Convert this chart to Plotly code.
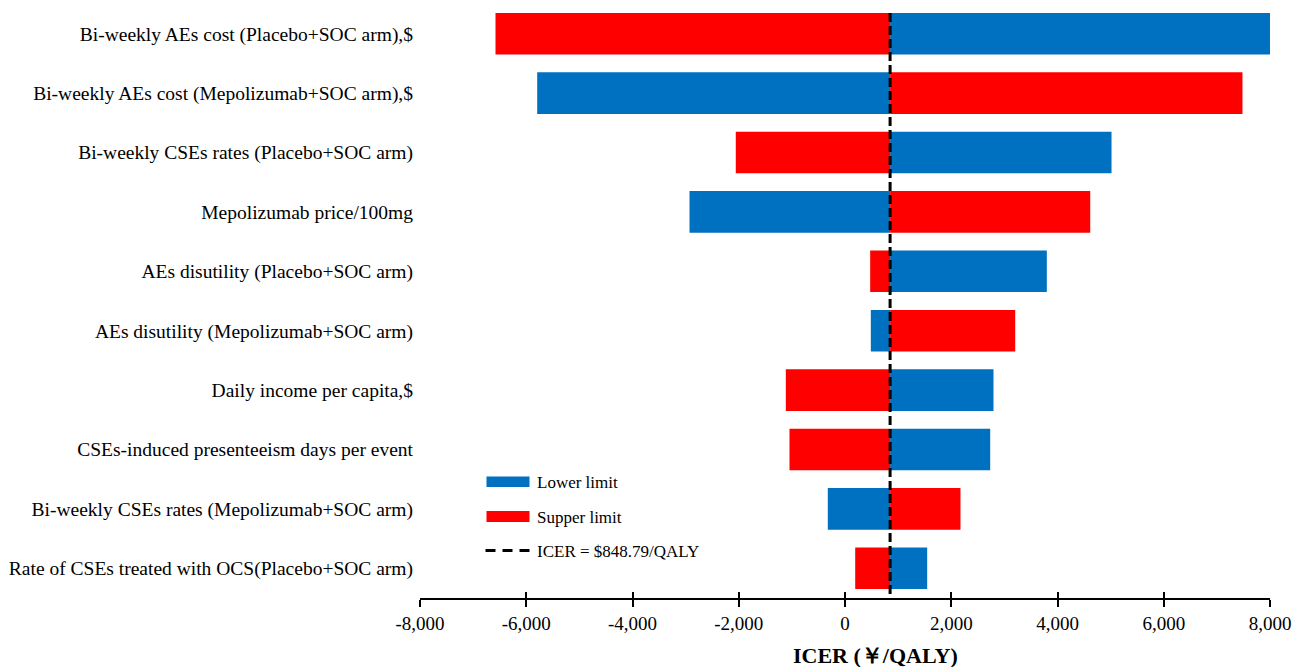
import plotly.graph_objects as go

# One-way sensitivity analysis (tornado diagram)
parameters = [
    "Bi-weekly AEs cost (Placebo+SOC arm),$",
    "Bi-weekly AEs cost (Mepolizumab+SOC arm),$",
    "Bi-weekly CSEs rates (Placebo+SOC arm)",
    "Mepolizumab price/100mg",
    "AEs disutility (Placebo+SOC arm)",
    "AEs disutility (Mepolizumab+SOC arm)",
    "Daily income per capita,$",
    "CSEs-induced presenteeism days per event",
    "Bi-weekly CSEs rates (Mepolizumab+SOC arm)",
    "Rate of CSEs treated with OCS(Placebo+SOC arm)",
]
lower_limit_icer = [8000, -5794, 5017, -2927, 3799, 486, 2795, 2733, -324, 1547]
upper_limit_icer = [-6579, 7482, -2056, 4616, 474, 3204, -1114, -1045, 2174, 192]
base_icer = 848.79

tick_values = [-8000, -6000, -4000, -2000, 0, 2000, 4000, 6000, 8000]
tick_labels = ["-8,000", "-6,000", "-4,000", "-2,000", "0", "2,000", "4,000", "6,000", "8,000"]

BLUE = "#0070C0"
RED = "#FF0000"
FONT = "Liberation Serif, Times New Roman, serif"

fig = go.Figure()
fig.add_trace(go.Bar(
    y=parameters, x=[v - base_icer for v in lower_limit_icer], base=base_icer,
    orientation="h", marker=dict(color=BLUE, line=dict(width=0)),
    width=0.7, name="Lower limit", showlegend=False,
))
fig.add_trace(go.Bar(
    y=parameters, x=[v - base_icer for v in upper_limit_icer], base=base_icer,
    orientation="h", marker=dict(color=RED, line=dict(width=0)),
    width=0.7, name="Supper limit", showlegend=False,
))
# helper trace so the upward tick marks of the overlay axis are drawn
fig.add_trace(go.Scatter(x=[base_icer], y=[parameters[0]], xaxis="x2", mode="markers",
                         marker=dict(opacity=0), showlegend=False, hoverinfo="skip"))

# base-case ICER reference line
fig.add_shape(type="line", xref="x", yref="y", x0=base_icer, x1=base_icer,
              y0=-0.35, y1=len(parameters) - 0.5,
              line=dict(color="black", width=3, dash="9px,4px"))

# legend drawn by hand (wide colour swatches)
W, H = 850.0, 594.0
def px(x):
    return (x - 420.5) / W
def py(y):
    return (598.0 - y) / H

fig.add_shape(type="rect", xref="paper", yref="paper",
              x0=px(487), x1=px(530), y0=py(487), y1=py(476.5),
              fillcolor=BLUE, line=dict(width=0))
fig.add_shape(type="rect", xref="paper", yref="paper",
              x0=px(487), x1=px(530), y0=py(522), y1=py(511),
              fillcolor=RED, line=dict(width=0))
fig.add_shape(type="line", xref="paper", yref="paper",
              x0=px(486), x1=px(531), y0=py(550.5), y1=py(550.5),
              line=dict(color="black", width=3, dash="10px,7px"))
for label, yc in [("Lower limit", 482), ("Supper limit", 517),
                  ("ICER = $%.2f/QALY" % base_icer, 551)]:
    fig.add_annotation(text=label, xref="paper", yref="paper", x=px(535), y=py(yc),
                       xanchor="left", yanchor="middle", showarrow=False,
                       font=dict(family=FONT, size=17, color="black"))

# x-axis title
fig.add_annotation(text="<b>ICER (￥/QALY)</b>", xref="paper", yref="paper",
                   x=px(875.5), y=py(655), xanchor="center", yanchor="middle",
                   showarrow=False, font=dict(family=FONT, size=22, color="black"))

fig.update_layout(
    width=1294, height=667,
    margin=dict(l=420, r=24, t=4, b=69),
    paper_bgcolor="white", plot_bgcolor="white",
    barmode="overlay", bargap=0.3,
    font=dict(family=FONT, size=19.5, color="black"),
    xaxis=dict(
        range=[-8000, 8000], tickvals=tick_values, ticktext=tick_labels,
        showgrid=False, zeroline=False, showline=True, linecolor="black", linewidth=1.5,
        ticks="outside", ticklen=7, tickwidth=1.5, tickcolor="black",
        tickfont=dict(family=FONT, size=19),
    ),
    xaxis2=dict(
        range=[-8000, 8000], tickvals=tick_values, overlaying="x", anchor="y", side="bottom",
        showticklabels=False, showgrid=False, zeroline=False, showline=False,
        ticks="inside", ticklen=6, tickwidth=1.5, tickcolor="black",
    ),
    yaxis=dict(
        categoryorder="array", categoryarray=parameters,
        range=[len(parameters) - 0.5, -0.5], autorange=False,
        showgrid=False, zeroline=False, showline=False, ticks="",
        ticklabelstandoff=6, tickfont=dict(family=FONT, size=19.5),
    ),
)

fig.write_html("out.html")
